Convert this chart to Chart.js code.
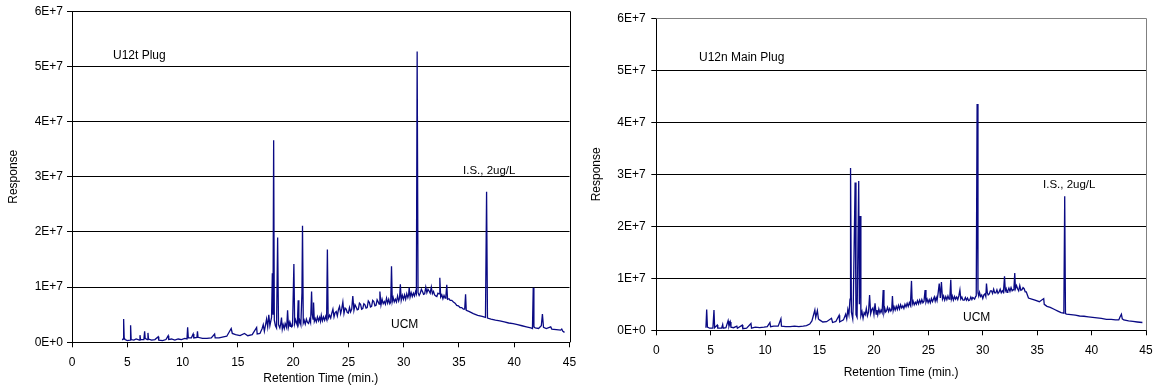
<!DOCTYPE html>
<html>
<head>
<meta charset="utf-8">
<script src="https://cdn.jsdelivr.net/npm/chart.js@4/dist/chart.umd.min.js"></script>
<style>
  body { margin: 0; background: #fff; width: 1155px; height: 388px; position: relative; overflow: hidden; }
  canvas { position: absolute; top: 0; }
  #leftChart { left: 0; }
  #rightChart { left: 578px; }
</style>
</head>
<body>
<canvas id="leftChart" width="577" height="388"></canvas>
<canvas id="rightChart" width="577" height="388"></canvas>
<script>
// Response values are in units of 1E+6
const yTickLabels = ['0E+0', '1E+7', '2E+7', '3E+7', '4E+7', '5E+7', '6E+7'];

// U12t Plug chromatogram
const plugTime = [
    4.55, 4.62, 4.67, 4.72, 4.8, 5.0, 5.25, 5.3, 5.35, 5.6,
    5.8, 6.1, 6.15, 6.2, 6.5, 6.57, 6.62, 6.8, 6.87, 6.92,
    7.2, 7.5, 7.8, 7.85, 8.2, 8.5, 8.7, 8.75, 9.0, 9.3,
    9.6, 9.9, 10.2, 10.4, 10.46, 10.52, 10.8, 10.96, 11.02, 11.3,
    11.35, 11.4, 11.8, 12.2, 12.6, 12.9, 12.95, 13.3, 13.7, 14.0,
    14.4, 14.5, 14.8, 15.2, 15.6, 15.9, 16.3, 16.7, 16.75, 17.0,
    17.2, 17.3, 17.4, 17.6, 17.7, 17.8, 17.9, 18.05, 18.12, 18.18,
    18.24, 18.3, 18.4, 18.5, 18.6, 18.68, 18.8, 18.88, 18.95, 19.02,
    19.1, 19.2, 19.28, 19.35, 19.42, 19.5, 19.58, 19.66, 19.74, 19.8,
    19.88, 19.95, 20.07, 20.14, 20.22, 20.3, 20.38, 20.46, 20.52, 20.6,
    20.7, 20.8, 20.85, 20.92, 21.0, 21.1, 21.2, 21.3, 21.4, 21.5,
    21.58, 21.67, 21.73, 21.8, 21.85, 21.92, 22.0, 22.1, 22.2, 22.3,
    22.4, 22.48, 22.55, 22.65, 22.75, 22.85, 22.95, 23.03, 23.1, 23.17,
    23.3, 23.4, 23.5, 23.6, 23.7, 23.8, 23.9, 24.0, 24.1, 24.2,
    24.3, 24.4, 24.5, 24.6, 24.7, 24.8, 24.9, 25.0, 25.1, 25.2,
    25.3, 25.4, 25.5, 25.6, 25.7, 25.8, 25.9, 26.0, 26.1, 26.2,
    26.3, 26.4, 26.5, 26.6, 26.7, 26.8, 26.9, 27.0, 27.1, 27.2,
    27.3, 27.4, 27.5, 27.6, 27.7, 27.78, 27.85, 27.95, 28.05, 28.15,
    28.25, 28.35, 28.45, 28.55, 28.65, 28.75, 28.83, 28.9, 28.97, 29.05,
    29.15, 29.25, 29.35, 29.45, 29.55, 29.63, 29.7, 29.78, 29.88, 29.98,
    30.08, 30.18, 30.28, 30.38, 30.45, 30.5, 30.58, 30.68, 30.78, 30.88,
    30.98, 31.08, 31.15, 31.22, 31.3, 31.4, 31.5, 31.6, 31.7, 31.8,
    31.9, 32.0, 32.1, 32.2, 32.3, 32.4, 32.5, 32.6, 32.7, 32.8,
    32.9, 33.0, 33.1, 33.2, 33.27, 33.35, 33.45, 33.55, 33.65, 33.75,
    33.82, 33.9, 33.97, 34.1, 34.2, 34.35, 34.5, 34.65, 34.8, 34.95,
    35.1, 35.25, 35.4, 35.52, 35.6, 35.66, 35.9, 36.3, 36.7, 37.1,
    37.4, 37.5, 37.58, 37.9, 38.3, 38.7, 39.1, 39.5, 39.9, 40.3,
    40.7, 41.1, 41.5, 41.65, 41.72, 41.78, 41.9, 42.2, 42.45, 42.55,
    42.65, 42.9, 43.3, 43.4, 43.8, 44.2, 44.3, 44.4, 44.55
];
const plugResp = [
    0.4, 0.6, 4.2, 0.8, 0.5, 0.3, 0.4, 3.1, 0.5, 0.4,
    0.6, 0.4, 1.3, 0.5, 0.5, 2.0, 0.7, 0.5, 1.7, 0.6,
    0.4, 0.5, 1.0, 0.4, 0.3, 0.5, 1.2, 0.5, 0.6, 0.4,
    0.6, 0.5, 0.7, 0.6, 2.7, 0.8, 0.8, 1.5, 0.8, 0.9,
    2.0, 0.9, 0.7, 0.7, 0.8, 1.5, 0.8, 0.8, 1.0, 1.1,
    2.5, 1.6, 1.4, 1.2, 1.6, 1.2, 1.4, 2.7, 1.5, 1.6,
    2.5, 3.2, 2.0, 4.2, 2.8, 5.0, 3.0, 4.5, 12.5, 5.0,
    36.6, 4.0, 3.0, 2.6, 19.0, 3.2, 2.6, 3.4, 4.5, 2.4,
    3.2, 2.5, 3.4, 3.0, 2.6, 5.8, 2.8, 3.6, 2.9, 3.3,
    2.8, 3.0, 14.2, 3.4, 4.1, 3.6, 3.1, 7.6, 3.4, 4.0,
    3.2, 9.0, 21.1, 3.5, 4.0, 3.3, 4.2, 3.6, 3.4, 4.2,
    3.6, 9.2, 5.0, 4.2, 7.2, 3.8, 4.3, 3.7, 4.6, 3.9,
    4.5, 3.8, 4.9, 3.9, 4.6, 4.0, 4.7, 4.2, 16.8, 4.3,
    4.9, 4.4, 5.3, 6.0, 4.6, 5.4, 5.6, 4.8, 5.9, 6.5,
    5.2, 6.1, 7.3, 5.2, 6.2, 6.0, 5.4, 5.3, 6.3, 5.5,
    6.0, 8.4, 5.8, 6.8, 6.4, 5.9, 6.0, 7.1, 6.9, 6.0,
    6.1, 7.0, 6.8, 6.2, 6.3, 7.5, 7.2, 6.4, 6.5, 7.6,
    7.4, 6.6, 6.7, 7.7, 7.3, 6.9, 9.2, 6.8, 7.8, 7.0,
    7.4, 6.9, 8.0, 7.1, 7.8, 7.0, 7.3, 13.8, 7.4, 8.1,
    7.3, 7.8, 7.3, 8.4, 7.5, 8.0, 10.5, 7.6, 8.5, 7.8,
    8.6, 7.8, 8.8, 8.1, 8.6, 9.9, 8.2, 9.0, 8.3, 8.9,
    8.4, 9.2, 8.8, 52.7, 9.0, 8.5, 8.9, 9.6, 9.2, 8.7,
    8.8, 10.0, 9.0, 9.6, 9.3, 8.9, 10.0, 8.8, 9.2, 8.6,
    8.4, 8.3, 8.9, 8.8, 11.7, 8.2, 8.6, 7.9, 8.5, 8.0,
    8.4, 10.4, 7.8, 7.9, 7.6, 7.6, 7.3, 7.1, 6.7, 6.6,
    6.3, 6.3, 6.0, 6.0, 8.7, 5.8, 5.6, 5.2, 4.9, 4.7,
    4.5, 27.3, 4.4, 4.2, 4.0, 3.9, 3.7, 3.5, 3.4, 3.2,
    3.0, 2.8, 2.6, 2.5, 9.9, 2.8, 2.6, 2.5, 3.0, 5.1,
    2.7, 2.5, 2.8, 2.4, 2.3, 2.2, 2.4, 2.0, 1.8
];

// U12n Main Plug chromatogram
const mainTime = [
    4.56, 4.63, 4.7, 4.9, 5.2, 5.3, 5.36, 5.6, 5.65, 6.0,
    6.1, 6.15, 6.4, 6.6, 6.68, 6.8, 6.86, 7.1, 7.4, 7.45,
    7.9, 7.95, 8.3, 8.7, 8.75, 9.1, 9.5, 9.9, 10.2, 10.44,
    10.5, 10.8, 11.2, 11.45, 11.5, 11.9, 12.3, 12.7, 13.1, 13.5,
    13.8, 14.1, 14.3, 14.57, 14.65, 14.8, 14.9, 15.0, 15.3, 15.65,
    16.1, 16.2, 16.5, 16.8, 16.85, 17.2, 17.4, 17.5, 17.6, 17.7,
    17.8, 17.85, 17.93, 18.05, 18.1, 18.27, 18.35, 18.45, 18.6, 18.66,
    18.73, 18.8, 18.9, 19.0, 19.1, 19.2, 19.3, 19.4, 19.5, 19.6,
    19.7, 19.8, 19.9, 20.0, 20.1, 20.2, 20.28, 20.35, 20.45, 20.55,
    20.65, 20.75, 20.85, 20.92, 21.0, 21.08, 21.15, 21.25, 21.35, 21.45,
    21.55, 21.63, 21.7, 21.77, 21.85, 21.95, 22.05, 22.15, 22.25, 22.35,
    22.45, 22.55, 22.65, 22.75, 22.85, 22.95, 23.05, 23.15, 23.25, 23.35,
    23.45, 23.52, 23.6, 23.7, 23.8, 23.9, 24.0, 24.1, 24.2, 24.3,
    24.4, 24.5, 24.6, 24.7, 24.78, 24.88, 24.98, 25.08, 25.18, 25.28,
    25.38, 25.47, 25.55, 25.63, 25.72, 25.8, 25.9, 26.0, 26.1, 26.2,
    26.3, 26.4, 26.5, 26.6, 26.7, 26.8, 26.9, 26.98, 27.06, 27.12,
    27.2, 27.3, 27.4, 27.5, 27.6, 27.7, 27.8, 27.9, 27.98, 28.08,
    28.18, 28.3, 28.4, 28.5, 28.6, 28.7, 28.8, 28.9, 29.0, 29.08,
    29.15, 29.25, 29.35, 29.4, 29.48, 29.56, 29.63, 29.7, 29.8, 29.9,
    30.0, 30.1, 30.2, 30.28, 30.34, 30.42, 30.5, 30.6, 30.7, 30.8,
    30.9, 31.0, 31.1, 31.2, 31.3, 31.4, 31.5, 31.6, 31.7, 31.8,
    31.9, 32.0, 32.07, 32.15, 32.23, 32.3, 32.4, 32.5, 32.6, 32.7,
    32.8, 32.87, 32.94, 33.0, 33.1, 33.2, 33.3, 33.4, 33.5, 33.6,
    33.7, 33.8, 33.9, 34.0, 34.1, 34.2, 34.5, 34.8, 35.2, 35.6,
    35.65, 35.9, 36.2, 36.6, 36.9, 37.2, 37.45, 37.53, 37.6, 37.7,
    38.1, 38.5, 38.9, 39.3, 39.7, 40.1, 40.5, 40.9, 41.36, 41.8,
    42.2, 42.5, 42.6, 42.74, 42.82, 42.95, 43.4, 43.8, 44.2, 44.67
];
const mainResp = [
    0.5, 4.0, 0.6, 0.4, 0.4, 3.9, 0.5, 1.0, 0.4, 0.4,
    1.1, 0.4, 0.5, 1.85, 0.8, 1.6, 0.6, 0.5, 0.8, 0.4,
    1.0, 0.3, 0.4, 1.3, 0.4, 0.6, 0.5, 0.6, 0.7, 1.5,
    0.7, 0.8, 0.8, 2.2, 0.8, 0.7, 0.7, 0.8, 0.7, 0.8,
    0.9, 1.2, 1.8, 3.9, 2.5, 3.8, 2.2, 2.0, 1.6, 1.65,
    2.3, 1.5, 1.7, 2.9, 1.6, 2.0, 3.1, 2.2, 4.0, 3.0,
    6.0, 31.2, 3.5, 2.2, 5.0, 28.4, 3.0, 2.5, 28.7, 5.0,
    22.0, 2.8, 3.6, 2.3, 3.4, 3.0, 4.2, 2.8, 3.5, 6.8,
    3.2, 4.0, 4.3, 3.0, 5.2, 3.1, 3.9, 3.0, 4.1, 3.3,
    3.9, 3.4, 7.75, 3.4, 4.2, 3.5, 3.7, 4.4, 3.6, 4.2,
    3.7, 4.0, 6.6, 3.8, 4.5, 3.9, 4.6, 4.0, 4.8, 4.1,
    4.9, 4.3, 4.7, 4.2, 5.0, 4.5, 5.2, 4.6, 5.3, 4.8,
    9.5, 5.0, 5.6, 4.9, 5.4, 5.0, 5.7, 5.1, 5.8, 5.2,
    5.9, 5.3, 5.6, 7.75, 5.4, 6.0, 5.3, 5.9, 5.3, 6.1,
    5.5, 6.0, 6.4, 5.6, 6.3, 5.7, 7.2, 9.0, 6.2, 9.3,
    6.0, 6.6, 5.8, 6.5, 5.9, 6.6, 6.0, 6.5, 9.7, 6.0,
    6.6, 5.8, 6.5, 6.0, 6.4, 5.9, 6.6, 7.75, 6.0, 6.4,
    5.8, 5.8, 6.3, 5.8, 6.2, 5.7, 5.8, 6.4, 5.9, 6.3,
    6.2, 6.0, 6.5, 6.6, 43.5, 7.2, 6.6, 7.3, 6.5, 6.8,
    6.1, 6.8, 7.0, 6.5, 9.0, 7.2, 6.8, 7.0, 7.6, 7.6,
    7.1, 7.9, 7.2, 7.2, 7.8, 7.1, 7.4, 7.9, 7.2, 7.6,
    7.3, 10.4, 7.6, 8.0, 7.3, 7.6, 8.1, 7.5, 8.2, 7.6,
    7.8, 8.3, 11.0, 8.0, 8.6, 8.0, 7.6, 8.6, 7.7, 7.8,
    8.2, 8.0, 7.4, 7.4, 6.8, 6.2, 6.0, 5.8, 5.5, 6.1,
    5.0, 4.6, 4.4, 4.0, 3.7, 3.4, 3.3, 25.8, 3.2, 3.1,
    3.0, 2.9, 2.75, 2.7, 2.6, 2.5, 2.4, 2.3, 2.1, 2.1,
    2.0, 2.0, 2.5, 3.1, 2.2, 2.0, 1.8, 1.7, 1.6, 1.5
];

const FONT = '"Liberation Sans", Arial, sans-serif';

// draws the plot frame on the right side and the text notes
const notesPlugin = {
    id: 'notes',
    afterDraw(chart, args, opts) {
        const ctx = chart.ctx;
        const a = chart.chartArea;
        ctx.save();
        ctx.strokeStyle = opts.frameColor;
        ctx.lineWidth = 1;
        ctx.beginPath();
        ctx.moveTo(a.left, Math.round(a.top) + 0.5);
        ctx.lineTo(Math.round(a.right) + 0.5, Math.round(a.top) + 0.5);
        ctx.lineTo(Math.round(a.right) + 0.5, a.bottom);
        ctx.stroke();
        ctx.fillStyle = '#000';
        ctx.textBaseline = 'alphabetic';
        opts.labels.forEach(l => {
            ctx.font = l.size + 'px ' + FONT;
            ctx.fillText(l.text, l.x, l.y);
        });
        ctx.restore();
    }
};

function makeChart(id, times, resp, s) {
    const points = times.map((t, i) => ({ x: t, y: resp[i] }));
    return new Chart(document.getElementById(id), {
        type: 'line',
        data: {
            datasets: [{
                data: points,
                borderColor: '#0a0a84',
                borderWidth: 1.3,
                pointRadius: 0,
                tension: 0,
                fill: false
            }]
        },
        options: {
            responsive: false,
            animation: false,
            devicePixelRatio: 1,
            layout: { padding: { top: s.top, right: s.right, left: 0, bottom: 0 } },
            plugins: {
                legend: { display: false },
                tooltip: { enabled: false },
                notes: { frameColor: s.frameColor, labels: s.labels }
            },
            scales: {
                x: {
                    type: 'linear',
                    min: 0,
                    max: 45,
                    afterFit: sc => { sc.height = s.xHeight; sc.paddingLeft = 0; sc.paddingRight = 0; },
                    ticks: { stepSize: 5, color: '#000', padding: s.xTickPad, maxRotation: 0, font: { family: FONT, size: 12 } },
                    grid: { drawOnChartArea: false, color: '#000', tickLength: 5 },
                    border: { color: '#000' },
                    title: { display: true, text: 'Retention Time (min.)', color: '#000', padding: { top: 0, bottom: s.xTitlePad }, font: { family: FONT, size: 12 } }
                },
                y: {
                    min: 0,
                    max: 60,
                    afterFit: sc => { sc.width = s.yWidth; },
                    ticks: { stepSize: 10, color: '#000', padding: s.yTickPad, font: { family: FONT, size: 12 },
                             callback: (v, i) => yTickLabels[i] },
                    grid: { color: '#000', tickLength: 5 },
                    border: { color: '#000' },
                    title: { display: true, text: 'Response', color: '#000', padding: { top: s.yTitlePad, bottom: 0 }, font: { family: FONT, size: 12 } }
                }
            }
        },
        plugins: [notesPlugin]
    });
}

makeChart('leftChart', plugTime, plugResp, {
    top: 10.5, right: 7.5, xHeight: 45.7, yWidth: 72, xTickPad: 8, yTickPad: 4, xTitlePad: 2.3, yTitlePad: 6.8,
    frameColor: '#000',
    labels: [
        { text: 'U12t Plug', x: 113, y: 59, size: 12 },
        { text: 'I.S., 2ug/L', x: 463, y: 173.5, size: 11.5 },
        { text: 'UCM', x: 391, y: 328, size: 12 }
    ]
});

makeChart('rightChart', mainTime, mainResp, {
    top: 18.3, right: 9, xHeight: 57.7, yWidth: 78.3, xTickPad: 8, yTickPad: 5.6, xTitlePad: 7.8, yTitlePad: 11.8,
    frameColor: '#808080',
    labels: [
        { text: 'U12n Main Plug', x: 121, y: 61, size: 12 },
        { text: 'I.S., 2ug/L', x: 465, y: 187.5, size: 11.5 },
        { text: 'UCM', x: 385, y: 320.5, size: 12 }
    ]
});
</script>
</body>
</html>
